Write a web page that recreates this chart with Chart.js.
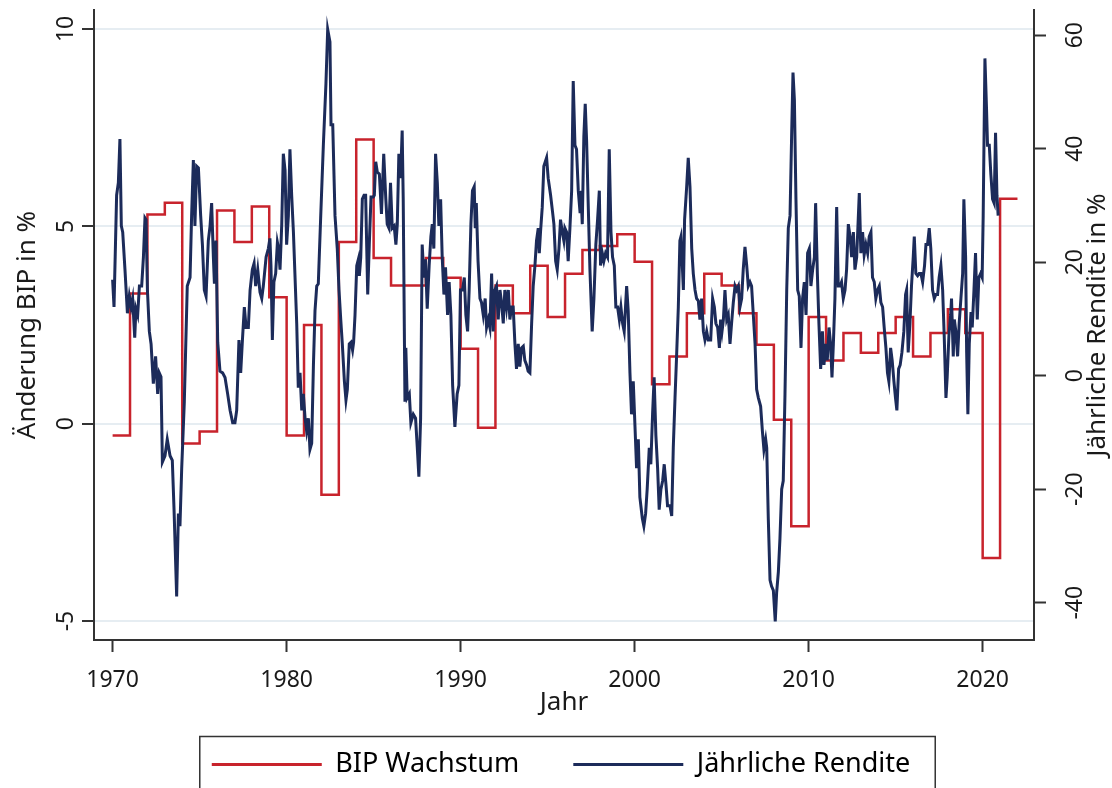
<!DOCTYPE html>
<html lang="de">
<head>
<meta charset="utf-8">
<title>BIP Wachstum und Jährliche Rendite</title>
<script src="https://cdn.jsdelivr.net/npm/chart.js@4/dist/chart.umd.min.js"></script>
<style>
  html, body { margin: 0; padding: 0; background: #fff; }
  #wrap { width: 1112px; height: 788px; }
</style>
</head>
<body>
<div id="wrap"><canvas id="chart" width="1112" height="788"></canvas></div>
<script>
"use strict";

// BIP-Wachstum (jährlich, in %), Treppenlinie auf der linken Achse
const bipJahr = [1970, 1971, 1972, 1973, 1974, 1975, 1976, 1977, 1978, 1979,
    1980, 1981, 1982, 1983, 1984, 1985, 1986, 1987, 1988, 1989,
    1990, 1991, 1992, 1993, 1994, 1995, 1996, 1997, 1998, 1999,
    2000, 2001, 2002, 2003, 2004, 2005, 2006, 2007, 2008, 2009,
    2010, 2011, 2012, 2013, 2014, 2015, 2016, 2017, 2018, 2019,
    2020, 2021, 2022];
const bip = [-0.3, 3.3, 5.3, 5.6, -0.5, -0.2, 5.4, 4.6, 5.5, 3.2,
    -0.3, 2.5, -1.8, 4.6, 7.2, 4.2, 3.5, 3.5, 4.2, 3.7,
    1.9, -0.1, 3.5, 2.8, 4.0, 2.7, 3.8, 4.4, 4.5, 4.8,
    4.1, 1.0, 1.7, 2.8, 3.8, 3.5, 2.8, 2.0, 0.1, -2.6,
    2.7, 1.6, 2.3, 1.8, 2.3, 2.7, 1.7, 2.3, 2.9, 2.3,
    -3.4, 5.7, 5.7];

// Jährliche Rendite (rollierend, in %), rechte Achse
const renditeJahr = [
    1970.00, 1970.08, 1970.23, 1970.33, 1970.42, 1970.50, 1970.58, 1970.71, 1970.85, 1970.96,
    1971.06, 1971.15, 1971.27, 1971.34, 1971.44, 1971.54, 1971.67, 1971.77, 1971.86, 1971.92,
    1972.00, 1972.11, 1972.21, 1972.34, 1972.47, 1972.59, 1972.68, 1972.78, 1972.86, 1973.01,
    1973.14, 1973.30, 1973.43, 1973.53, 1973.68, 1973.78, 1973.87, 1973.97, 1974.12, 1974.29,
    1974.45, 1974.54, 1974.64, 1974.73, 1974.83, 1974.93, 1975.06, 1975.16, 1975.27, 1975.37,
    1975.50, 1975.60, 1975.69, 1975.79, 1975.85, 1975.94, 1976.04, 1976.17, 1976.32, 1976.46,
    1976.61, 1976.75, 1976.90, 1977.03, 1977.13, 1977.26, 1977.36, 1977.46, 1977.57, 1977.67,
    1977.80, 1977.90, 1978.03, 1978.13, 1978.22, 1978.34, 1978.47, 1978.57, 1978.66, 1978.82,
    1978.95, 1979.04, 1979.10, 1979.18, 1979.27, 1979.37, 1979.47, 1979.54, 1979.62, 1979.72,
    1979.81, 1979.91, 1980.00, 1980.10, 1980.19, 1980.29, 1980.39, 1980.58, 1980.67, 1980.77,
    1980.87, 1980.96, 1981.06, 1981.15, 1981.25, 1981.34, 1981.44, 1981.54, 1981.63, 1981.73,
    1981.82, 1981.96, 1982.11, 1982.26, 1982.36, 1982.49, 1982.55, 1982.65, 1982.78, 1982.91,
    1983.01, 1983.11, 1983.20, 1983.32, 1983.41, 1983.49, 1983.60, 1983.70, 1983.79, 1983.85,
    1983.93, 1984.03, 1984.12, 1984.18, 1984.26, 1984.35, 1984.45, 1984.54, 1984.66, 1984.75,
    1984.85, 1984.98, 1985.04, 1985.12, 1985.21, 1985.33, 1985.45, 1985.58, 1985.70, 1985.78,
    1985.88, 1985.97, 1986.07, 1986.18, 1986.28, 1986.36, 1986.45, 1986.55, 1986.64, 1986.70,
    1986.80, 1986.85, 1986.93, 1987.05, 1987.14, 1987.28, 1987.41, 1987.51, 1987.60, 1987.70,
    1987.79, 1987.89, 1987.98, 1988.08, 1988.19, 1988.29, 1988.37, 1988.46, 1988.56, 1988.66,
    1988.75, 1988.85, 1988.94, 1989.04, 1989.13, 1989.25, 1989.34, 1989.44, 1989.54, 1989.67,
    1989.80, 1989.90, 1989.99, 1990.11, 1990.21, 1990.30, 1990.40, 1990.49, 1990.59, 1990.68,
    1990.78, 1990.84, 1990.90, 1991.00, 1991.11, 1991.20, 1991.30, 1991.41, 1991.49, 1991.59,
    1991.68, 1991.78, 1991.87, 1991.97, 1992.06, 1992.16, 1992.26, 1992.35, 1992.45, 1992.54,
    1992.64, 1992.74, 1992.83, 1992.93, 1993.02, 1993.12, 1993.21, 1993.31, 1993.40, 1993.50,
    1993.60, 1993.69, 1993.79, 1993.88, 1993.98, 1994.08, 1994.17, 1994.27, 1994.36, 1994.46,
    1994.52, 1994.59, 1994.69, 1994.78, 1994.94, 1995.03, 1995.17, 1995.28, 1995.36, 1995.46,
    1995.55, 1995.65, 1995.74, 1995.84, 1995.93, 1995.99, 1996.09, 1996.18, 1996.28, 1996.38,
    1996.47, 1996.57, 1996.66, 1996.76, 1996.86, 1996.91, 1996.99, 1997.08, 1997.16, 1997.24,
    1997.33, 1997.43, 1997.56, 1997.66, 1997.77, 1997.87, 1997.97, 1998.04, 1998.14, 1998.23,
    1998.33, 1998.44, 1998.54, 1998.64, 1998.73, 1998.83, 1998.92, 1999.02, 1999.12, 1999.21,
    1999.31, 1999.40, 1999.54, 1999.63, 1999.73, 1999.82, 1999.92, 2000.02, 2000.11, 2000.21,
    2000.30, 2000.44, 2000.53, 2000.63, 2000.72, 2000.84, 2000.93, 2001.03, 2001.12, 2001.22,
    2001.32, 2001.41, 2001.51, 2001.61, 2001.70, 2001.80, 2001.89, 2002.03, 2002.13, 2002.22,
    2002.32, 2002.41, 2002.51, 2002.60, 2002.66, 2002.74, 2002.80, 2002.87, 2002.99, 2003.08,
    2003.18, 2003.28, 2003.37, 2003.47, 2003.56, 2003.66, 2003.75, 2003.85, 2003.95, 2004.04,
    2004.14, 2004.23, 2004.37, 2004.48, 2004.58, 2004.67, 2004.77, 2004.87, 2004.94, 2005.02,
    2005.10, 2005.19, 2005.29, 2005.38, 2005.48, 2005.57, 2005.67, 2005.77, 2005.86, 2005.96,
    2006.05, 2006.15, 2006.24, 2006.34, 2006.44, 2006.53, 2006.63, 2006.72, 2006.82, 2006.92,
    2007.01, 2007.11, 2007.24, 2007.34, 2007.43, 2007.53, 2007.59, 2007.68, 2007.78, 2007.87,
    2007.97, 2008.08, 2008.16, 2008.26, 2008.35, 2008.45, 2008.54, 2008.64, 2008.74, 2008.83,
    2008.93, 2009.02, 2009.10, 2009.18, 2009.27, 2009.37, 2009.46, 2009.56, 2009.65, 2009.75,
    2009.85, 2009.94, 2010.04, 2010.13, 2010.23, 2010.33, 2010.40, 2010.50, 2010.59, 2010.69,
    2010.79, 2010.88, 2010.98, 2011.07, 2011.17, 2011.26, 2011.34, 2011.42, 2011.51, 2011.61,
    2011.70, 2011.80, 2011.89, 2011.99, 2012.09, 2012.18, 2012.28, 2012.38, 2012.47, 2012.57,
    2012.66, 2012.76, 2012.91, 2013.00, 2013.10, 2013.19, 2013.29, 2013.39, 2013.48, 2013.58,
    2013.67, 2013.77, 2013.86, 2013.96, 2014.06, 2014.15, 2014.25, 2014.34, 2014.44, 2014.53,
    2014.61, 2014.71, 2014.80, 2014.90, 2014.99, 2015.07, 2015.17, 2015.26, 2015.36, 2015.47,
    2015.57, 2015.63, 2015.72, 2015.82, 2015.91, 2016.01, 2016.07, 2016.16, 2016.26, 2016.35,
    2016.45, 2016.55, 2016.66, 2016.74, 2016.83, 2016.93, 2017.02, 2017.12, 2017.22, 2017.31,
    2017.41, 2017.50, 2017.60, 2017.70, 2017.79, 2017.89, 2017.96, 2018.06, 2018.16, 2018.21,
    2018.31, 2018.37, 2018.46, 2018.56, 2018.65, 2018.75, 2018.85, 2018.92, 2019.02, 2019.08,
    2019.15, 2019.23, 2019.33, 2019.40, 2019.50, 2019.59, 2019.69, 2019.78, 2019.88, 2019.97,
    2020.03, 2020.13, 2020.22, 2020.28, 2020.38, 2020.47, 2020.57, 2020.66, 2020.74, 2020.82,
    2020.89];
const rendite = [
    16.9, 12.1, 31.8, 34.0, 41.7, 26.4, 25.3, 18.7, 11.0, 14.0,
    12.1, 13.6, 6.7, 11.8, 10.7, 15.8, 15.8, 20.9, 27.8, 27.5,
    15.1, 7.8, 5.6, -1.4, 3.4, -3.2, 0.5, -0.2, -15.2, -14.1,
    -11.2, -14.1, -14.9, -23.6, -38.9, -24.3, -26.5, -16.3, -4.6, 15.8,
    17.3, 28.2, 38.0, 26.4, 36.9, 36.6, 28.2, 23.1, 15.1, 14.0,
    23.8, 26.4, 30.4, 20.9, 16.2, 23.8, 5.9, 0.8, 0.5, -0.3,
    -3.2, -6.1, -8.3, -8.3, -6.1, 6.3, 0.5, 6.3, 12.1, 8.5,
    8.5, 15.1, 18.7, 19.8, 15.8, 18.7, 14.7, 13.6, 15.8, 20.9,
    22.4, 24.2, 19.4, 6.3, 16.5, 18.0, 23.5, 22.4, 18.7, 26.7,
    39.1, 36.2, 23.1, 28.2, 39.9, 31.8, 25.3, 9.2, -2.1, 0.5,
    -6.1, -3.2, -7.5, -9.7, -7.5, -13.0, -11.9, 1.9, 11.4, 15.8,
    16.2, 28.2, 40.6, 51.5, 61.0, 58.8, 44.2, 44.2, 28.2, 22.4,
    15.1, 9.9, 5.6, -1.0, -4.3, -2.4, 5.6, 5.9, 4.5, 5.9,
    10.7, 19.4, 20.5, 17.6, 20.9, 31.1, 31.8, 31.8, 14.3, 23.1,
    31.5, 31.5, 31.8, 37.7, 35.9, 35.5, 28.5, 39.1, 31.1, 26.7,
    26.0, 34.0, 26.0, 26.4, 23.1, 26.7, 39.1, 34.8, 43.2, 31.1,
    -4.6, 4.9, -3.9, -3.2, -8.3, -6.8, -7.5, -12.7, -17.8, -7.5,
    23.1, 17.3, 20.5, 11.8, 19.4, 24.5, 26.7, 22.4, 39.1, 34.0,
    26.4, 31.1, 20.9, 14.3, 19.1, 10.7, 16.5, 10.7, -1.7, -9.0,
    -3.2, -1.7, 15.1, 15.1, 17.3, 10.7, 7.8, 15.1, 26.7, 32.6,
    33.3, 26.0, 30.4, 20.2, 13.6, 12.9, 10.7, 13.6, 8.5, 9.9,
    8.5, 18.0, 7.8, 15.1, 15.8, 9.9, 15.1, 12.9, 9.2, 15.1,
    12.1, 15.1, 9.9, 12.1, 12.1, 5.6, 1.2, 5.6, 1.6, 4.9,
    5.2, 2.7, 1.9, 0.8, 0.5, 9.2, 15.8, 19.4, 23.8, 26.0,
    21.6, 25.3, 29.7, 36.9, 38.4, 34.8, 31.8, 28.9, 26.7, 20.2,
    18.7, 22.4, 27.5, 25.3, 23.8, 26.0, 25.3, 20.2, 26.0, 32.6,
    51.9, 40.6, 39.9, 32.6, 28.9, 32.6, 26.7, 42.1, 47.9, 41.3,
    30.4, 18.7, 7.8, 13.6, 23.1, 27.5, 32.6, 19.4, 21.6, 20.2,
    21.6, 20.9, 39.9, 25.3, 20.9, 19.4, 12.1, 12.1, 9.9, 12.1,
    9.2, 7.8, 15.8, 11.4, 0.5, -6.8, -1.0, -9.0, -16.3, -11.2,
    -21.4, -25.1, -26.5, -24.3, -20.0, -12.7, -15.6, -6.8, -0.3, -10.5,
    -16.3, -23.6, -20.0, -18.5, -15.6, -19.2, -22.9, -22.9, -24.7, -12.7,
    -3.9, 3.4, 12.1, 23.8, 24.5, 19.4, 15.1, 27.5, 33.3, 38.4,
    33.3, 22.4, 18.0, 15.1, 13.6, 13.2, 9.9, 13.6, 7.8, 6.3,
    7.8, 6.3, 6.3, 13.6, 12.1, 9.2, 8.5, 4.9, 9.9, 7.8,
    9.9, 15.1, 9.9, 10.7, 5.6, 9.2, 12.9, 15.8, 15.1, 15.8,
    12.1, 13.6, 18.7, 22.7, 19.4, 15.8, 16.5, 15.8, 10.7, 5.6,
    -2.4, -3.9, -5.4, -9.7, -13.0, -11.2, -12.7, -25.1, -36.0, -37.1,
    -37.8, -43.3, -38.2, -34.5, -28.7, -20.0, -18.5, -3.2, 15.1, 26.0,
    28.2, 42.1, 53.4, 48.6, 31.1, 15.1, 14.0, 4.9, 13.6, 16.5,
    10.7, 21.6, 22.4, 15.8, 18.7, 20.9, 30.4, 18.0, 9.2, 1.2,
    7.8, 1.9, 5.6, 2.7, 8.5, 5.6, -0.3, 5.6, 13.6, 29.7,
    15.8, 15.8, 16.5, 13.6, 15.1, 18.7, 26.7, 24.5, 20.9, 25.3,
    18.7, 20.9, 32.2, 21.6, 25.3, 21.3, 23.1, 21.6, 24.5, 25.3,
    17.3, 16.5, 13.6, 15.1, 15.8, 12.9, 12.1, 8.5, 4.9, 0.5,
    -1.0, 4.9, 2.7, -1.0, -3.9, -6.1, 1.2, 1.9, 4.1, 7.8,
    14.3, 15.1, 4.1, 9.2, 15.8, 20.9, 24.5, 18.0, 17.6, 18.0,
    18.0, 16.5, 19.4, 23.1, 23.1, 26.0, 22.4, 15.1, 13.6, 14.3,
    14.3, 17.3, 19.4, 15.1, 7.0, -3.9, -0.3, 7.0, 10.7, 13.6,
    3.4, 9.9, 7.8, 3.4, 9.2, 13.6, 18.0, 31.1, 20.9, 4.1,
    -6.8, 5.6, 11.2, 8.5, 15.1, 21.6, 9.9, 17.3, 18.0, 17.3,
    28.2, 55.9, 47.2, 40.6, 40.6, 35.5, 31.1, 30.4, 42.8, 31.8,
    28.2];

// Achsenbeschriftungen
const jahrTicks = [1970, 1980, 1990, 2000, 2010, 2020];
const bipTicks = [-5, 0, 5, 10];
const renditeTicks = [-40, -20, 0, 20, 40, 60];

const ROT = "#c8232c";
const NAVY = "#1c2b5a";
const INK = "#1a1a1a";
const AXIS = "#333333";
const FONT = "'Noto Sans', sans-serif";

Chart.defaults.font.family = FONT;
Chart.defaults.color = INK;

const setTicks = list => scale => {
    scale.ticks = list.map(v => ({ value: v }));
};

// feste Achsenmaße, ohne zusätzlichen Randausgleich für Beschriftungen
const fixWidth = w => s => {
    s.width = w;
    s.paddingTop = 0;
    s.paddingBottom = 0;
};

// Titel der rechten Achse liest von unten nach oben, wie links
const rechterTitel = {
    id: "rechterTitel",
    afterDraw(chart) {
        const { ctx, chartArea } = chart;
        ctx.save();
        ctx.translate(1098, (chartArea.top + chartArea.bottom) / 2);
        ctx.rotate(-Math.PI / 2);
        ctx.font = "26px " + FONT;
        ctx.fillStyle = INK;
        ctx.textAlign = "center";
        ctx.textBaseline = "middle";
        ctx.fillText("Jährliche Rendite in %", 0, 0);
        ctx.restore();
    }
};

// Rahmen um die Legende
const legendenRahmen = {
    id: "legendenRahmen",
    afterDraw(chart) {
        const boxes = chart.legend && chart.legend.legendHitBoxes;
        if (!boxes || !boxes.length) return;
        const first = boxes[0];
        const last = boxes[boxes.length - 1];
        const left = first.left - 12;
        const right = last.left + last.width + 25;
        const top = first.top + first.height / 2 - 28;
        const ctx = chart.ctx;
        ctx.save();
        ctx.strokeStyle = AXIS;
        ctx.lineWidth = 1.5;
        ctx.strokeRect(left, top, right - left, chart.height + 10 - top);
        ctx.restore();
    }
};

new Chart(document.getElementById("chart"), {
    type: "line",
    data: {
        datasets: [{
                label: "BIP Wachstum",
                data: bipJahr.map((j, i) => ({ x: j, y: bip[i] })),
                yAxisID: "yL",
                borderColor: ROT,
                backgroundColor: ROT,
                borderWidth: 2.5,
                stepped: true,
                pointRadius: 0,
                fill: false,
                order: 1,
            }, {
                label: "Jährliche Rendite",
                data: renditeJahr.map((j, i) => ({ x: j, y: rendite[i] })),
                yAxisID: "yR",
                borderColor: NAVY,
                backgroundColor: NAVY,
                borderWidth: 3,
                pointRadius: 0,
                tension: 0,
                fill: false,
                order: 0,
            }],
    },
    options: {
        responsive: false,
        devicePixelRatio: 1,
        animation: false,
        layout: { padding: { top: 10, left: 10, right: 0, bottom: 0 } },
        scales: {
            x: {
                type: "linear",
                position: "bottom",
                min: 1968.93,
                max: 2022.95,
                afterBuildTicks: setTicks(jahrTicks),
                afterFit: s => {
                    s.height = 57;
                    s.paddingLeft = 0;
                    s.paddingRight = 0;
                },
                ticks: {
                    autoSkip: false,
                    maxRotation: 0,
                    padding: 15,
                    font: { size: 23 },
                    color: INK,
                    callback: v => String(v),
                },
                grid: { drawOnChartArea: false, tickLength: 12, tickColor: AXIS, tickWidth: 2 },
                border: { color: AXIS, width: 2 },
                title: { display: true, text: "Jahr", font: { size: 26 }, color: INK, padding: { top: 0, bottom: -21 } },
            },
            yL: {
                type: "linear",
                position: "left",
                min: -5.48,
                max: 10.48,
                afterBuildTicks: setTicks(bipTicks),
                afterFit: fixWidth(84),
                ticks: {
                    autoSkip: false,
                    minRotation: 90,
                    maxRotation: 90,
                    crossAlign: "center",
                    padding: 2,
                    font: { size: 23 },
                    color: INK,
                    callback: v => String(v),
                },
                grid: { color: "#e6edf2", lineWidth: 2, tickLength: 12, tickColor: AXIS, tickWidth: 2 },
                border: { color: AXIS, width: 2 },
                title: { display: true, text: "Änderung BIP in %", font: { size: 26 }, color: INK, padding: { top: 2, bottom: 0 } },
            },
            yR: {
                type: "linear",
                position: "right",
                min: -46.56,
                max: 64.43,
                afterBuildTicks: setTicks(renditeTicks),
                afterFit: fixWidth(78),
                ticks: {
                    autoSkip: false,
                    minRotation: 90,
                    maxRotation: 90,
                    crossAlign: "center",
                    padding: 13,
                    font: { size: 23 },
                    color: INK,
                    callback: v => String(v),
                },
                grid: { drawOnChartArea: false, tickLength: 12, tickColor: AXIS, tickWidth: 2 },
                border: { color: AXIS, width: 2 },
            },
        },
        plugins: {
            legend: {
                position: "bottom",
                labels: {
                    font: { size: 27 },
                    color: INK,
                    boxWidth: 110,
                    boxHeight: 3,
                    padding: 54,
                    sort: (a, b) => a.datasetIndex - b.datasetIndex,
                    generateLabels: chart => chart.data.datasets.map((ds, i) => ({
                        text: ds.label,
                        fillStyle: ds.borderColor,
                        strokeStyle: ds.borderColor,
                        lineWidth: 0,
                        hidden: false,
                        datasetIndex: i,
                    })),
                },
            },
            tooltip: { enabled: false },
        },
    },
    plugins: [rechterTitel, legendenRahmen],
});
</script>
</body>
</html>
